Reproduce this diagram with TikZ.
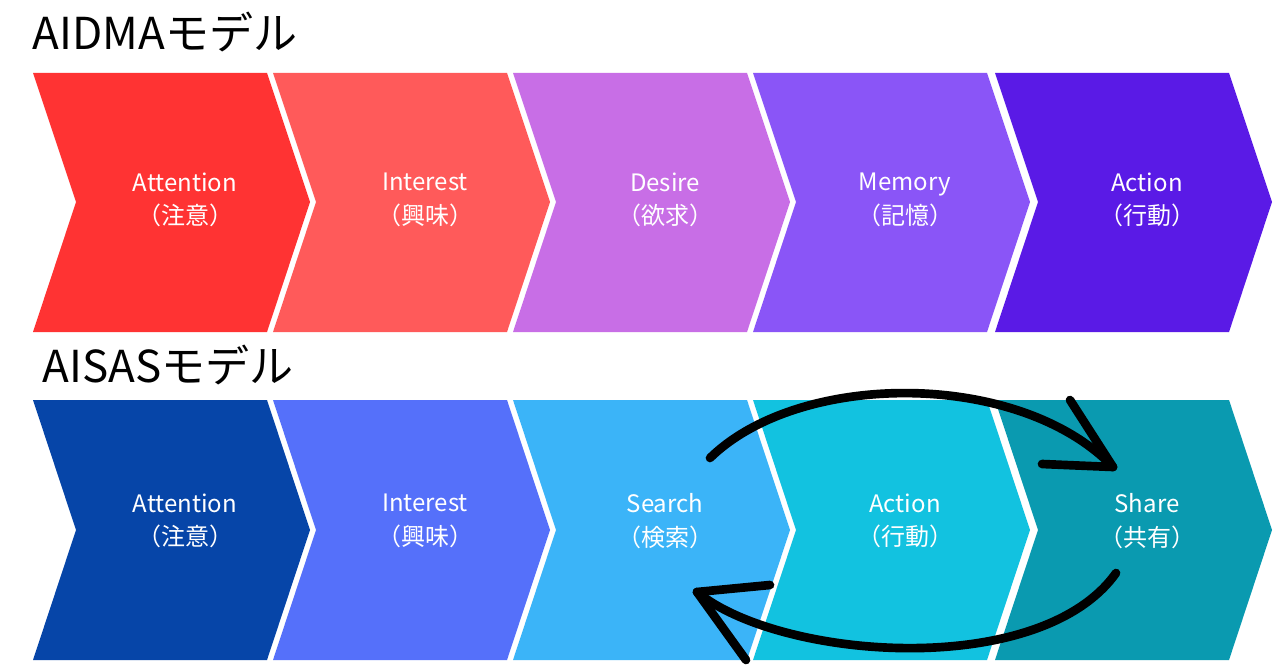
\documentclass[tikz,border=0pt]{standalone}
\usepackage{fontspec}
\setmainfont{Noto Sans CJK JP}
\begin{document}
\begin{tikzpicture}[x=0.75pt,y=-0.75pt,
  lbl/.style={text=white,font=\fontsize{18}{25}\selectfont,align=center},
  ttl/.style={anchor=west,font=\fontsize{33}{36}\selectfont},
  arc/.style={line width=6.5pt,line cap=round,line join=round}]
\useasboundingbox (0,0) rectangle (1280,670);
\fill[white] (0,0) rectangle (1280,670);
\definecolor{a1}{HTML}{FF3333}\definecolor{a2}{HTML}{FF5A5A}\definecolor{a3}{HTML}{C86EE6}
\definecolor{a4}{HTML}{8A55F7}\definecolor{a5}{HTML}{5A1AE6}
\definecolor{b1}{HTML}{0645A8}\definecolor{b2}{HTML}{5570FA}\definecolor{b3}{HTML}{3BB4F8}
\definecolor{b4}{HTML}{12C2E0}\definecolor{b5}{HTML}{0A9AB0}
\newcommand{\chev}[5]{% x0, top, bot, color, name/text
  \fill[#4] (#1,#2) -- ++(234,0) -- ({#1+277},{(#2+#3)/2}) -- ({#1+234},#3) -- (#1,#3) -- ({#1+43},{(#2+#3)/2}) -- cycle;
  \node[lbl] (#5) at ({#1+152},{(#2+#3)/2}) {};}
\node[ttl] (t1) at (28,32) {AIDMAモデル};
\node[ttl] (t2) at (38,365) {AISASモデル};
\foreach \x/\c/\n/\t in {33/a1/A1/{Attention\\（注意）},273/a2/A2/{Interest\\（興味）},513/a3/A3/{Desire\\（欲求）},753/a4/A4/{Memory\\（記憶）},995/a5/A5/{Action\\（行動）}}{
  \fill[\c] (\x,73) -- ++(234,0) -- ({\x+277},202) -- ({\x+234},332) -- (\x,332) -- ({\x+43},202) -- cycle;
  \node[lbl] (\n) at ({\x+152},200) {\t};}
\foreach \x/\c/\n/\t in {33/b1/B1/{Attention\\（注意）},273/b2/B2/{Interest\\（興味）},513/b3/B3/{Search\\（検索）},753/b4/B4/{Action\\（行動）},995/b5/B5/{Share\\（共有）}}{
  \fill[\c] (\x,400) -- ++(234,0) -- ({\x+277},530) -- ({\x+234},660) -- (\x,660) -- ({\x+43},530) -- cycle;
  \node[lbl] (\n) at ({\x+152},521) {\t};}
\coordinate (s1) at (710,458); \coordinate (e1) at (1113,467);
\coordinate (h1a) at (1070,400); \coordinate (h1b) at (1042,464);
\draw[arc] (s1) .. controls (800,370) and (1020,370) .. (e1);
\draw[arc] (h1a) -- (e1) -- (h1b);
\coordinate (s2) at (1116,573); \coordinate (e2) at (697,592);
\coordinate (h2a) at (770,585); \coordinate (h2b) at (746,660);
\draw[arc] (s2) .. controls (1040,680) and (780,660) .. (e2);
\draw[arc] (h2a) -- (e2) -- (h2b);
\end{tikzpicture}
\end{document}
